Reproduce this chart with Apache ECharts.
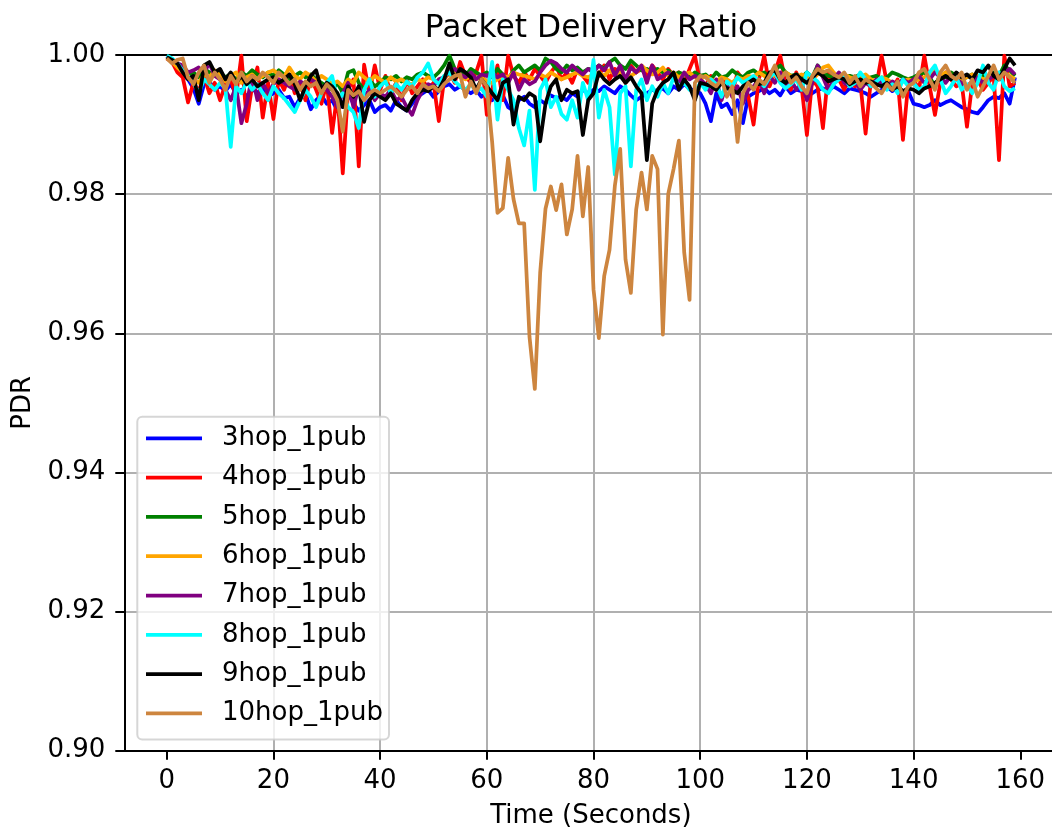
<!DOCTYPE html>
<html>
<head>
<meta charset="utf-8">
<script src="https://cdn.jsdelivr.net/npm/echarts@6/dist/echarts.min.js"></script>
<style>
  html, body { margin: 0; padding: 0; background: #fff; }
  #chart { width: 1052px; height: 833px; }
</style>
</head>
<body>
<div id="chart"></div>
<script>
// Sample times (seconds) and tick positions
const seconds = Array.from({ length: 160 }, (_, i) => i);
const secondTicks = [0, 20, 40, 60, 80, 100, 120, 140, 160];
const pdrTicks = [0.90, 0.92, 0.94, 0.96, 0.98, 1.00];

const seriesNames = ['3hop_1pub', '4hop_1pub', '5hop_1pub', '6hop_1pub', '7hop_1pub', '8hop_1pub', '9hop_1pub', '10hop_1pub'];
const seriesColors = ['#0000ff', '#ff0000', '#008000', '#ffa500', '#800080', '#00ffff', '#000000', '#cd853f'];

// Packet delivery ratio per second, one array per hop count
const pdr3hop = [
  0.9998, 0.9993, 0.9985, 0.9972, 0.9965, 0.9952, 0.9930, 0.9958, 0.9962, 0.9950,
  0.9955, 0.9948, 0.9958, 0.9945, 0.9950, 0.9940, 0.9952, 0.9945, 0.9955, 0.9940,
  0.9945, 0.9950, 0.9938, 0.9940, 0.9925, 0.9938, 0.9945, 0.9922, 0.9935, 0.9942,
  0.9930, 0.9935, 0.9920, 0.9930, 0.9945, 0.9930, 0.9920, 0.9928, 0.9935, 0.9918,
  0.9925, 0.9928, 0.9920, 0.9935, 0.9925, 0.9920, 0.9930, 0.9940, 0.9945, 0.9950,
  0.9940, 0.9948, 0.9955, 0.9958, 0.9950, 0.9955, 0.9950, 0.9945, 0.9950, 0.9940,
  0.9945, 0.9935, 0.9940, 0.9942, 0.9925, 0.9920, 0.9935, 0.9940, 0.9930, 0.9925,
  0.9935, 0.9930, 0.9942, 0.9938, 0.9940, 0.9935, 0.9945, 0.9940, 0.9950, 0.9945,
  0.9950, 0.9948, 0.9955, 0.9950, 0.9945, 0.9955, 0.9950, 0.9942, 0.9935, 0.9940,
  0.9945, 0.9950, 0.9948, 0.9952, 0.9945, 0.9955, 0.9950, 0.9958, 0.9952, 0.9948,
  0.9945, 0.9930, 0.9905, 0.9945, 0.9925, 0.9930, 0.9915, 0.9935, 0.9902, 0.9940,
  0.9945, 0.9948, 0.9952, 0.9945, 0.9950, 0.9942, 0.9955, 0.9945, 0.9950, 0.9948,
  0.9940, 0.9945, 0.9950, 0.9952, 0.9948, 0.9955, 0.9950, 0.9945, 0.9952, 0.9950,
  0.9948, 0.9945, 0.9940, 0.9945, 0.9950, 0.9955, 0.9948, 0.9952, 0.9945, 0.9948,
  0.9930, 0.9928, 0.9925, 0.9928, 0.9935, 0.9928, 0.9932, 0.9935, 0.9930, 0.9925,
  0.9922, 0.9918, 0.9916, 0.9925, 0.9935, 0.9940, 0.9938, 0.9945, 0.9930, 0.9968
];
const pdr4hop = [
  0.9995, 0.9990, 0.9975, 0.9968, 0.9932, 0.9960, 0.9948, 0.9970, 0.9945, 0.9960,
  0.9935, 0.9958, 0.9965, 0.9940, 0.9999, 0.9905, 0.9955, 0.9982, 0.9910, 0.9960,
  0.9908, 0.9965, 0.9950, 0.9972, 0.9945, 0.9960, 0.9935, 0.9968, 0.9950, 0.9930,
  0.9960, 0.9888, 0.9945, 0.9830, 0.9950, 0.9965, 0.9840, 0.9986, 0.9945, 0.9985,
  0.9950, 0.9970, 0.9945, 0.9960, 0.9935, 0.9965, 0.9945, 0.9955, 0.9965, 0.9950,
  0.9960, 0.9905, 0.9965, 0.9975, 0.9960, 0.9990, 0.9970, 0.9960, 0.9975, 0.9999,
  0.9914, 0.9950, 0.9985, 0.9935, 0.9999, 0.9970, 0.9960, 0.9975, 0.9965, 0.9980,
  0.9970, 0.9960, 0.9975, 0.9985, 0.9965, 0.9975, 0.9960, 0.9980, 0.9970, 0.9960,
  0.9975, 0.9970, 0.9985, 0.9965, 0.9980, 0.9975, 0.9960, 0.9985, 0.9975, 0.9980,
  0.9970, 0.9985, 0.9975, 0.9965, 0.9980, 0.9970, 0.9975, 0.9960, 0.9980, 0.9999,
  0.9960, 0.9955, 0.9970, 0.9950, 0.9965, 0.9960, 0.9945, 0.9975, 0.9965, 0.9940,
  0.9900, 0.9965, 0.9999, 0.9955, 0.9975, 0.9999, 0.9960, 0.9950, 0.9975, 0.9955,
  0.9885, 0.9965, 0.9955, 0.9895, 0.9975, 0.9960, 0.9965, 0.9950, 0.9970, 0.9955,
  0.9960, 0.9887, 0.9965, 0.9955, 0.9999, 0.9960, 0.9950, 0.9965, 0.9878, 0.9960,
  0.9965, 0.9950, 0.9999, 0.9955, 0.9914, 0.9960, 0.9975, 0.9965, 0.9955, 0.9960,
  0.9897, 0.9960, 0.9965, 0.9950, 0.9960, 0.9970, 0.9849, 0.9999, 0.9955, 0.9960
];
const pdr5hop = [
  0.9996, 0.9992, 0.9985, 0.9978, 0.9970, 0.9975, 0.9968, 0.9980, 0.9975, 0.9970,
  0.9975, 0.9968, 0.9972, 0.9965, 0.9975, 0.9970, 0.9978, 0.9972, 0.9968, 0.9975,
  0.9970, 0.9978, 0.9972, 0.9965, 0.9970, 0.9975, 0.9968, 0.9972, 0.9965, 0.9960,
  0.9955, 0.9950, 0.9960, 0.9945, 0.9975, 0.9978, 0.9960, 0.9950, 0.9965, 0.9955,
  0.9960, 0.9968, 0.9965, 0.9970, 0.9962, 0.9968, 0.9965, 0.9972, 0.9975, 0.9970,
  0.9968, 0.9975, 0.9985, 0.9999, 0.9980, 0.9975, 0.9970, 0.9980, 0.9975, 0.9970,
  0.9975, 0.9968, 0.9980, 0.9972, 0.9965, 0.9978, 0.9985, 0.9975, 0.9980, 0.9985,
  0.9978, 0.9995, 0.9990, 0.9980, 0.9975, 0.9985, 0.9978, 0.9982, 0.9975, 0.9980,
  0.9978, 0.9985, 0.9980, 0.9990, 0.9995, 0.9985, 0.9980, 0.9992, 0.9985, 0.9978,
  0.9980, 0.9975, 0.9980, 0.9975, 0.9978, 0.9970, 0.9975, 0.9972, 0.9968, 0.9975,
  0.9970, 0.9972, 0.9965, 0.9975, 0.9968, 0.9970, 0.9978, 0.9972, 0.9968, 0.9975,
  0.9978, 0.9972, 0.9975, 0.9968, 0.9978, 0.9985, 0.9975, 0.9970, 0.9972, 0.9968,
  0.9975, 0.9968, 0.9985, 0.9975, 0.9970, 0.9968, 0.9972, 0.9965, 0.9970, 0.9968,
  0.9972, 0.9965, 0.9968, 0.9970, 0.9965, 0.9968, 0.9975, 0.9972, 0.9968, 0.9965,
  0.9968, 0.9972, 0.9975, 0.9968, 0.9955, 0.9972, 0.9968, 0.9975, 0.9970, 0.9965,
  0.9968, 0.9972, 0.9965, 0.9970, 0.9968, 0.9975, 0.9970, 0.9985, 0.9978, 0.9970
];
const pdr6hop = [
  0.9997, 0.9990, 0.9982, 0.9975, 0.9968, 0.9965, 0.9960, 0.9972, 0.9968, 0.9978,
  0.9970, 0.9962, 0.9970, 0.9975, 0.9960, 0.9968, 0.9972, 0.9965, 0.9970, 0.9975,
  0.9978, 0.9972, 0.9968, 0.9982, 0.9970, 0.9965, 0.9975, 0.9970, 0.9962, 0.9970,
  0.9965, 0.9958, 0.9962, 0.9955, 0.9965, 0.9960, 0.9975, 0.9968, 0.9962, 0.9970,
  0.9965, 0.9960, 0.9968, 0.9962, 0.9965, 0.9960, 0.9958, 0.9965, 0.9962, 0.9968,
  0.9965, 0.9960, 0.9968, 0.9972, 0.9975, 0.9968, 0.9965, 0.9970, 0.9965, 0.9968,
  0.9962, 0.9960, 0.9965, 0.9970, 0.9968, 0.9975, 0.9972, 0.9970, 0.9968, 0.9965,
  0.9972, 0.9968, 0.9975, 0.9970, 0.9965, 0.9968, 0.9972, 0.9975, 0.9970, 0.9968,
  0.9972, 0.9975, 0.9970, 0.9978, 0.9972, 0.9975, 0.9965, 0.9970, 0.9975, 0.9985,
  0.9978, 0.9972, 0.9975, 0.9982, 0.9970, 0.9975, 0.9968, 0.9972, 0.9975, 0.9968,
  0.9965, 0.9970, 0.9965, 0.9962, 0.9968, 0.9965, 0.9960, 0.9968, 0.9965, 0.9970,
  0.9968, 0.9975, 0.9970, 0.9965, 0.9972, 0.9968, 0.9975, 0.9970, 0.9968, 0.9972,
  0.9970, 0.9965, 0.9972, 0.9982, 0.9985, 0.9975, 0.9968, 0.9972, 0.9968, 0.9965,
  0.9968, 0.9972, 0.9965, 0.9962, 0.9968, 0.9965, 0.9960, 0.9955, 0.9962, 0.9965,
  0.9962, 0.9965, 0.9968, 0.9972, 0.9978, 0.9970, 0.9975, 0.9968, 0.9972, 0.9965,
  0.9968, 0.9972, 0.9970, 0.9965, 0.9968, 0.9972, 0.9968, 0.9975, 0.9970, 0.9965
];
const pdr7hop = [
  0.9998, 0.9992, 0.9988, 0.9985, 0.9975, 0.9978, 0.9982, 0.9975, 0.9988, 0.9970,
  0.9965, 0.9950, 0.9935, 0.9955, 0.9902, 0.9930, 0.9970, 0.9935, 0.9960, 0.9945,
  0.9958, 0.9965, 0.9960, 0.9955, 0.9950, 0.9962, 0.9958, 0.9965, 0.9960, 0.9955,
  0.9950, 0.9940, 0.9925, 0.9945, 0.9960, 0.9925, 0.9955, 0.9940, 0.9950, 0.9935,
  0.9945, 0.9940, 0.9950, 0.9935, 0.9940, 0.9925, 0.9914, 0.9935, 0.9950, 0.9958,
  0.9955, 0.9965, 0.9968, 0.9975, 0.9980, 0.9972, 0.9968, 0.9975, 0.9965, 0.9972,
  0.9970, 0.9975, 0.9968, 0.9972, 0.9960, 0.9975, 0.9950, 0.9965, 0.9958, 0.9962,
  0.9975, 0.9985, 0.9992, 0.9988, 0.9980, 0.9975, 0.9985, 0.9978, 0.9972, 0.9980,
  0.9975, 0.9985, 0.9978, 0.9990, 0.9970, 0.9985, 0.9965, 0.9982, 0.9975, 0.9985,
  0.9960, 0.9985, 0.9965, 0.9970, 0.9975, 0.9968, 0.9960, 0.9975, 0.9965, 0.9970,
  0.9965, 0.9958, 0.9945, 0.9965, 0.9935, 0.9960, 0.9940, 0.9955, 0.9930, 0.9950,
  0.9955, 0.9965, 0.9945, 0.9970, 0.9960, 0.9975, 0.9955, 0.9965, 0.9950, 0.9960,
  0.9935, 0.9960, 0.9985, 0.9968, 0.9950, 0.9965, 0.9975, 0.9960, 0.9955, 0.9962,
  0.9950, 0.9960, 0.9955, 0.9965, 0.9960, 0.9955, 0.9962, 0.9958, 0.9965, 0.9960,
  0.9965, 0.9970, 0.9960, 0.9965, 0.9975, 0.9968, 0.9960, 0.9970, 0.9965, 0.9960,
  0.9955, 0.9962, 0.9968, 0.9960, 0.9965, 0.9970, 0.9965, 0.9975, 0.9980, 0.9972
];
const pdr8hop = [
  0.9999, 0.9995, 0.9988, 0.9978, 0.9970, 0.9960, 0.9945, 0.9965, 0.9958, 0.9950,
  0.9960, 0.9952, 0.9868, 0.9955, 0.9945, 0.9962, 0.9950, 0.9958, 0.9945, 0.9935,
  0.9955, 0.9945, 0.9938, 0.9928, 0.9918, 0.9935, 0.9950, 0.9940, 0.9925, 0.9945,
  0.9960, 0.9970, 0.9935, 0.9945, 0.9925, 0.9918, 0.9895, 0.9950, 0.9965, 0.9940,
  0.9955, 0.9962, 0.9945, 0.9958, 0.9950, 0.9962, 0.9955, 0.9968, 0.9975, 0.9988,
  0.9965, 0.9958, 0.9970, 0.9975, 0.9962, 0.9955, 0.9950, 0.9958, 0.9948, 0.9952,
  0.9940, 0.9990, 0.9907, 0.9965, 0.9950, 0.9935, 0.9895, 0.9870, 0.9920, 0.9806,
  0.9950, 0.9965, 0.9925, 0.9940, 0.9915, 0.9907, 0.9935, 0.9910, 0.9960, 0.9935,
  0.9993, 0.9910, 0.9950, 0.9925, 0.9828, 0.9945, 0.9955, 0.9840, 0.9950, 0.9965,
  0.9935, 0.9955, 0.9940, 0.9960, 0.9945, 0.9968, 0.9955, 0.9960, 0.9950, 0.9945,
  0.9960, 0.9950, 0.9965, 0.9958, 0.9940, 0.9962, 0.9955, 0.9968, 0.9960, 0.9965,
  0.9970, 0.9962, 0.9955, 0.9968, 0.9975, 0.9960, 0.9952, 0.9958, 0.9965, 0.9950,
  0.9975, 0.9968, 0.9962, 0.9950, 0.9945, 0.9958, 0.9965, 0.9970, 0.9955, 0.9960,
  0.9975, 0.9965, 0.9955, 0.9962, 0.9968, 0.9950, 0.9958, 0.9945, 0.9965, 0.9955,
  0.9960, 0.9950, 0.9955, 0.9975, 0.9985, 0.9965, 0.9945, 0.9955, 0.9968, 0.9950,
  0.9958, 0.9945, 0.9960, 0.9985, 0.9960, 0.9950, 0.9975, 0.9955, 0.9948, 0.9952
];
const pdr9hop = [
  0.9997, 0.9993, 0.9988, 0.9975, 0.9965, 0.9970, 0.9935, 0.9985, 0.9990, 0.9975,
  0.9980, 0.9965, 0.9975, 0.9960, 0.9970, 0.9958, 0.9965, 0.9955, 0.9960, 0.9965,
  0.9968, 0.9960, 0.9965, 0.9972, 0.9958, 0.9935, 0.9955, 0.9970, 0.9978, 0.9950,
  0.9960, 0.9955, 0.9945, 0.9925, 0.9955, 0.9940, 0.9955, 0.9904, 0.9935, 0.9945,
  0.9940, 0.9935, 0.9945, 0.9930, 0.9925, 0.9920, 0.9935, 0.9945, 0.9950, 0.9948,
  0.9955, 0.9950, 0.9965, 0.9988, 0.9965, 0.9980, 0.9975, 0.9968, 0.9950, 0.9965,
  0.9955, 0.9945, 0.9935, 0.9960, 0.9965, 0.9900, 0.9940, 0.9935, 0.9945, 0.9940,
  0.9876, 0.9930, 0.9955, 0.9965, 0.9935, 0.9950, 0.9945, 0.9948, 0.9885, 0.9935,
  0.9945, 0.9975, 0.9965, 0.9958, 0.9965, 0.9970, 0.9960, 0.9968, 0.9955, 0.9945,
  0.9849, 0.9930, 0.9950, 0.9960, 0.9965, 0.9975, 0.9950, 0.9965, 0.9955, 0.9935,
  0.9960, 0.9958, 0.9955, 0.9950, 0.9960, 0.9952, 0.9950, 0.9945, 0.9955, 0.9960,
  0.9965, 0.9958, 0.9960, 0.9975, 0.9978, 0.9965, 0.9960, 0.9968, 0.9972, 0.9965,
  0.9960, 0.9968, 0.9975, 0.9970, 0.9962, 0.9965, 0.9968, 0.9965, 0.9958, 0.9962,
  0.9965, 0.9960, 0.9962, 0.9958, 0.9955, 0.9960, 0.9950, 0.9955, 0.9948, 0.9952,
  0.9950, 0.9945, 0.9952, 0.9955, 0.9960, 0.9965, 0.9970, 0.9965, 0.9975, 0.9968,
  0.9972, 0.9965, 0.9978, 0.9975, 0.9985, 0.9970, 0.9965, 0.9980, 0.9995, 0.9985
];
const pdr10hop = [
  0.9995, 0.9988, 0.9993, 0.9995, 0.9968, 0.9958, 0.9975, 0.9985, 0.9960, 0.9975,
  0.9965, 0.9950, 0.9970, 0.9958, 0.9975, 0.9962, 0.9970, 0.9965, 0.9975, 0.9968,
  0.9960, 0.9975, 0.9968, 0.9958, 0.9965, 0.9950, 0.9962, 0.9955, 0.9960, 0.9945,
  0.9958, 0.9950, 0.9935, 0.9890, 0.9950, 0.9942, 0.9948, 0.9935, 0.9945, 0.9950,
  0.9945, 0.9950, 0.9955, 0.9948, 0.9940, 0.9950, 0.9955, 0.9945, 0.9958, 0.9952,
  0.9955, 0.9948, 0.9958, 0.9965, 0.9970, 0.9972, 0.9940, 0.9962, 0.9945, 0.9965,
  0.9955, 0.9875, 0.9773, 0.9780, 0.9852, 0.9793, 0.9758, 0.9758, 0.9595, 0.9520,
  0.9687, 0.9779, 0.9811, 0.9777, 0.9814, 0.9742, 0.9778, 0.9855, 0.9768, 0.9839,
  0.9663, 0.9593, 0.9682, 0.9720, 0.9812, 0.9865, 0.9706, 0.9658, 0.9778, 0.9831,
  0.9778, 0.9855, 0.9836, 0.9598, 0.9800, 0.9836, 0.9877, 0.9716, 0.9648, 0.9960,
  0.9970, 0.9968, 0.9960, 0.9955, 0.9965, 0.9940, 0.9955, 0.9875, 0.9945, 0.9960,
  0.9950, 0.9965, 0.9958, 0.9970, 0.9985, 0.9965, 0.9975, 0.9960, 0.9968, 0.9955,
  0.9945, 0.9970, 0.9980, 0.9975, 0.9978, 0.9972, 0.9968, 0.9975, 0.9960, 0.9970,
  0.9955, 0.9965, 0.9960, 0.9952, 0.9945, 0.9958, 0.9950, 0.9962, 0.9940, 0.9955,
  0.9960, 0.9975, 0.9980, 0.9965, 0.9950, 0.9975, 0.9985, 0.9970, 0.9965, 0.9975,
  0.9950, 0.9965, 0.9940, 0.9955, 0.9970, 0.9985, 0.9965, 0.9975, 0.9968, 0.9960
];
const seriesValues = [pdr3hop, pdr4hop, pdr5hop, pdr6hop, pdr7hop, pdr8hop, pdr9hop, pdr10hop];

const FONT = 'DejaVu Sans';
const textBase = { fontFamily: FONT, fontSize: 26, color: '#000' };
const spine = { show: true, onZero: false, lineStyle: { color: '#000', width: 2 } };
const tick = { show: true, length: 9, inside: false, lineStyle: { color: '#000', width: 2 } };
const grid = { show: true, lineStyle: { color: '#b0b0b0', width: 2 }, showMinLine: false, showMaxLine: false };
const LINE_W = 3.75;

const chart = echarts.init(document.getElementById('chart'), null, { renderer: 'canvas' });

chart.setOption({
  animation: false,
  backgroundColor: '#ffffff',
  title: {
    text: 'Packet Delivery Ratio',
    left: 591, top: 13, textAlign: 'center',
    padding: 0,
    textStyle: { fontFamily: FONT, fontSize: 31.3, fontWeight: 'normal', color: '#000' }
  },
  grid: {
    left: 124.3, right: -5.4, top: 55, bottom: 82.3,
    outerBoundsMode: 'none', containLabel: false
  },
  legend: {
    orient: 'vertical',
    left: 137.3, top: 416.7,
    padding: [6.6, 6, 11, 8.7],
    itemWidth: 56, itemHeight: LINE_W, itemGap: 9.3,
    icon: 'rect',
    backgroundColor: 'rgba(255,255,255,0.8)',
    borderColor: 'rgba(204,204,204,0.8)', borderWidth: 2, borderRadius: 5,
    textStyle: Object.assign({ lineHeight: 30, padding: [0, 0, 0, 15] }, textBase),
    data: seriesNames
  },
  xAxis: [{
    type: 'value', min: -7.95, max: 166.95, splitNumber: 9,
    name: 'Time (Seconds)', nameLocation: 'middle', nameGap: 53,
    nameTextStyle: textBase,
    axisLine: spine,
    axisTick: Object.assign({ customValues: secondTicks }, tick),
    axisLabel: Object.assign({ customValues: secondTicks, margin: 18 }, textBase),
    splitLine: grid
  }, {
    type: 'value', position: 'top', min: -7.95, max: 166.95,
    axisLine: spine, axisTick: { show: false }, axisLabel: { show: false }, splitLine: { show: false }
  }],
  yAxis: {
    type: 'value', position: 'left', min: 0.9, max: 1.0, interval: 0.02,
    name: 'PDR', nameLocation: 'middle', nameGap: 88, nameRotate: 90,
    nameTextStyle: textBase,
    axisLine: spine,
    axisTick: Object.assign({ customValues: pdrTicks }, tick),
    axisLabel: Object.assign({ customValues: pdrTicks, margin: 19, formatter: v => v.toFixed(2) }, textBase),
    splitLine: grid
  },
  series: seriesNames.map((name, k) => ({
    name: name,
    type: 'line',
    xAxisIndex: 0,
    showSymbol: false,
    symbol: 'none',
    clip: true,
    color: seriesColors[k],
    lineStyle: { color: seriesColors[k], width: LINE_W, join: 'round' },
    data: seconds.map((t, i) => [t, seriesValues[k][i]])
  }))
});
</script>
</body>
</html>
